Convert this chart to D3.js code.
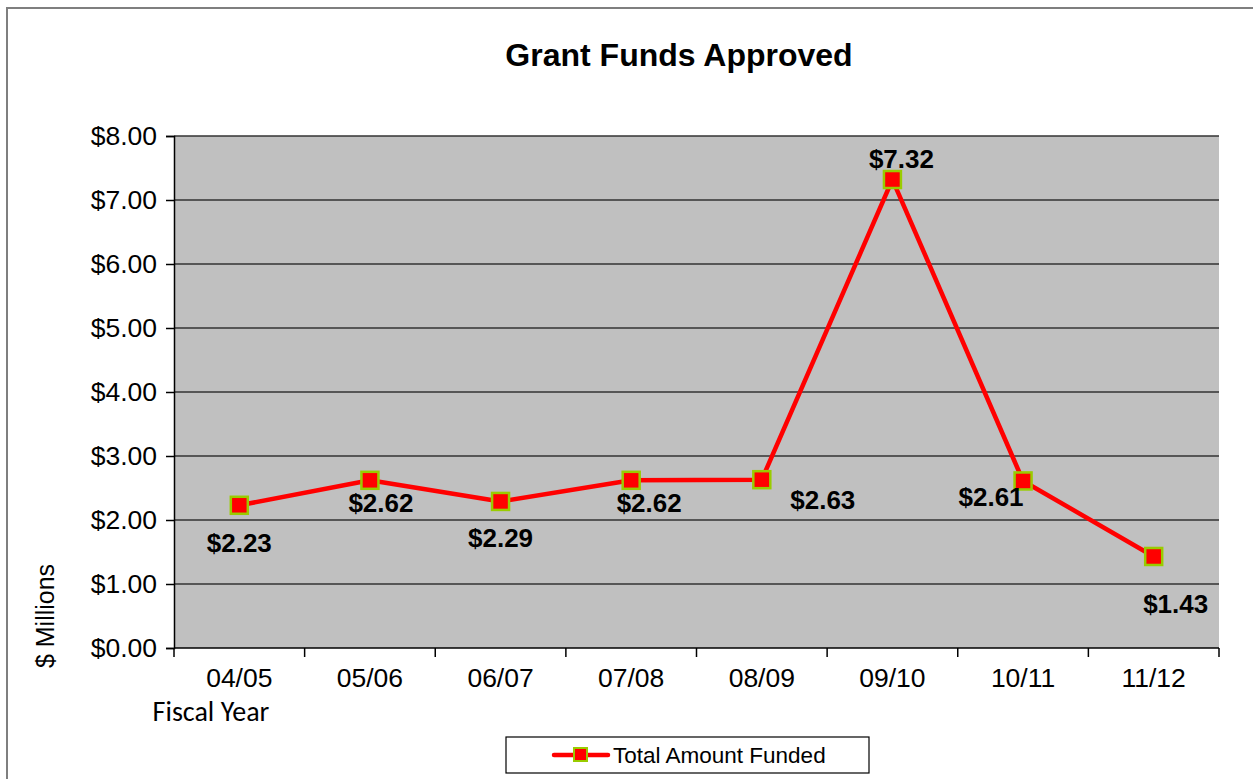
<!DOCTYPE html>
<html>
<head>
<meta charset="utf-8">
<script src="https://cdn.jsdelivr.net/npm/d3@7"></script>
<style>
  body { margin: 0; background: #fff; }
  svg { display: block; }
</style>
</head>
<body>
<div class="chart"></div>
<script>
// chart data
var years = ["04/05", "05/06", "06/07", "07/08", "08/09", "09/10", "10/11", "11/12"];
var funded = [2.23, 2.62, 2.29, 2.62, 2.63, 7.32, 2.61, 1.43];
var yTicks = [0, 1, 2, 3, 4, 5, 6, 7, 8];

// where each value label's baseline sits relative to its point (dx, dy)
var labelOffsets = [[0, 47], [11, 32], [0, 46], [18, 32], [61, 29], [9, -12], [-32, 25], [22, 57]];

var svgWidth = 1253;
var svgHeight = 779;

var margin = { top: 136, left: 174, right: 34, bottom: 131 };
var width = svgWidth - margin.left - margin.right;
var height = svgHeight - margin.top - margin.bottom;

var font = "Liberation Sans, Arial, sans-serif";

var svg = d3
  .select(".chart")
  .append("svg")
  .attr("width", svgWidth)
  .attr("height", svgHeight);

// outer frame
svg.append("rect")
  .attr("x", 7).attr("y", 8)
  .attr("width", svgWidth + 20).attr("height", svgHeight + 20)
  .attr("fill", "none")
  .attr("stroke", "#7f7f7f")
  .attr("stroke-width", 2);

// title
svg.append("text")
  .attr("x", 679).attr("y", 66)
  .attr("text-anchor", "middle")
  .style("font-family", font)
  .style("font-weight", "bold")
  .style("font-size", "32px")
  .text("Grant Funds Approved");

var chartGroup = svg.append("g")
  .attr("transform", `translate(${margin.left}, ${margin.top})`);

var xScale = d3.scaleBand().domain(years).range([0, width]);
var yScale = d3.scaleLinear().domain([0, 8]).range([height, 0]);

// plot background
chartGroup.append("rect")
  .attr("width", width).attr("height", height)
  .attr("fill", "#c0c0c0");

// gridlines
chartGroup.append("g")
  .selectAll("line")
  .data(yTicks.filter((d) => d > 0))
  .enter()
  .append("line")
  .attr("x1", 0).attr("x2", width)
  .attr("y1", (d) => yScale(d)).attr("y2", (d) => yScale(d))
  .attr("stroke", "#333")
  .attr("stroke-width", 1.5);

// y axis
var yAxis = d3.axisLeft(yScale)
  .tickValues(yTicks)
  .tickSize(8)
  .tickPadding(9)
  .tickFormat((d) => "$" + d3.format(".2f")(d));

var yAxisG = chartGroup.append("g").call(yAxis);
yAxisG.select(".domain").attr("stroke", "#000").attr("stroke-width", 1.5);
yAxisG.selectAll(".tick line").attr("stroke", "#000").attr("stroke-width", 1.5);
yAxisG.selectAll("text")
  .style("font-family", font)
  .style("font-size", "26.5px")
  .attr("fill", "#000");

// x axis: ticks on band edges
var xAxisG = chartGroup.append("g")
  .attr("transform", `translate(0, ${height})`);

xAxisG.append("line")
  .attr("x1", 0).attr("x2", width)
  .attr("stroke", "#000").attr("stroke-width", 1.5);

var edges = years.map((d) => xScale(d)).concat([width]);
xAxisG.selectAll(".edge")
  .data(edges)
  .enter()
  .append("line")
  .attr("class", "edge")
  .attr("x1", (d) => d).attr("x2", (d) => d)
  .attr("y1", 0).attr("y2", 9)
  .attr("stroke", "#000").attr("stroke-width", 1.5);

xAxisG.selectAll(".lbl")
  .data(years)
  .enter()
  .append("text")
  .attr("class", "lbl")
  .attr("x", (d) => xScale(d) + xScale.bandwidth() / 2)
  .attr("y", 39)
  .attr("text-anchor", "middle")
  .style("font-family", font)
  .style("font-size", "26.5px")
  .text((d) => d);

// axis titles
svg.append("text")
  .attr("x", 211).attr("y", 721)
  .attr("text-anchor", "middle")
  .style("font-family", "Carlito, Lato, sans-serif")
  .style("font-size", "28px")
  .text("Fiscal Year");

svg.append("text")
  .attr("transform", "translate(54, 616) rotate(-90)")
  .attr("text-anchor", "middle")
  .style("font-family", font)
  .style("font-size", "25px")
  .text("$ Millions");

// line
var cx = (d, i) => xScale(years[i]) + xScale.bandwidth() / 2;
var line = d3.line()
  .x(cx)
  .y((d) => yScale(d));

chartGroup.append("path")
  .datum(funded)
  .attr("d", line)
  .attr("fill", "none")
  .attr("stroke", "#ff0000")
  .attr("stroke-width", 4.5)
  .attr("stroke-linejoin", "round");

// markers
chartGroup.selectAll(".marker")
  .data(funded)
  .enter()
  .append("rect")
  .attr("class", "marker")
  .attr("x", (d, i) => cx(d, i) - 8.5)
  .attr("y", (d) => yScale(d) - 8.5)
  .attr("width", 17).attr("height", 17)
  .attr("fill", "#ff0000")
  .attr("stroke", "#99cc00")
  .attr("stroke-width", 2.5);

// value labels
chartGroup.selectAll(".val")
  .data(funded)
  .enter()
  .append("text")
  .attr("class", "val")
  .attr("x", (d, i) => cx(d, i) + labelOffsets[i][0])
  .attr("y", (d, i) => yScale(d) + labelOffsets[i][1])
  .attr("text-anchor", "middle")
  .style("font-family", font)
  .style("font-weight", "bold")
  .style("font-size", "26px")
  .text((d) => "$" + d3.format(".2f")(d));

// legend
var legend = svg.append("g").attr("transform", "translate(506, 737)");
legend.append("rect")
  .attr("width", 363).attr("height", 36)
  .attr("fill", "#fff")
  .attr("stroke", "#000")
  .attr("stroke-width", 1.2);
legend.append("line")
  .attr("x1", 48).attr("x2", 102)
  .attr("y1", 18).attr("y2", 18)
  .attr("stroke", "#ff0000")
  .attr("stroke-width", 4.5)
  .attr("stroke-linecap", "round");
legend.append("rect")
  .attr("x", 68).attr("y", 11)
  .attr("width", 13).attr("height", 13)
  .attr("fill", "#ff0000")
  .attr("stroke", "#99cc00")
  .attr("stroke-width", 2);
legend.append("text")
  .attr("x", 107).attr("y", 26)
  .style("font-family", font)
  .style("font-size", "22.5px")
  .text("Total Amount Funded");
</script>
</body>
</html>
